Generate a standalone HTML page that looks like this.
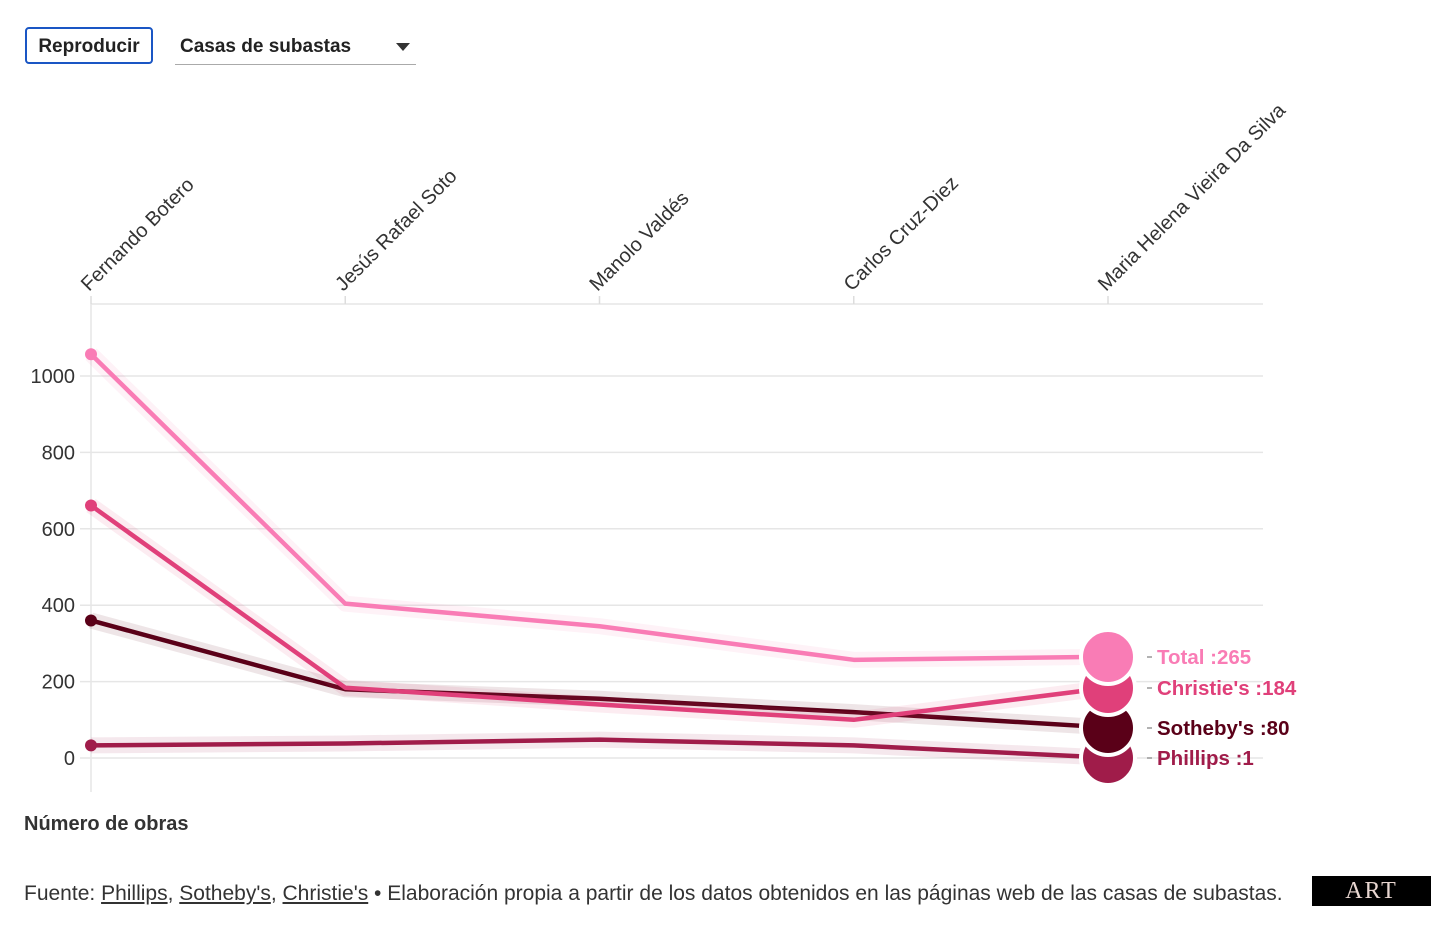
<!DOCTYPE html>
<html><head><meta charset="utf-8"><style>
body{margin:0;width:1456px;height:939px;background:#fff;font-family:"Liberation Sans",sans-serif;overflow:hidden;position:relative}
.btn{position:absolute;left:25px;top:27px;width:128px;height:37px;border:2px solid #1a56c4;border-radius:4px;box-sizing:border-box;font-size:19px;font-weight:bold;color:#222;text-align:center;line-height:35px}
.sel{position:absolute;left:175px;top:30px;width:241px;height:35px;border-bottom:1.5px solid #aaa;font-size:19px;font-weight:bold;color:#222;box-sizing:border-box;padding-left:5px;line-height:34px}
.sel .arr{position:absolute;right:6px;top:13px;width:0;height:0;border-left:7px solid transparent;border-right:7px solid transparent;border-top:8px solid #333}
</style></head><body>
<div class="btn">Reproducir</div>
<div class="sel">Casas de subastas<span class="arr"></span></div>
<svg id="c" width="1456" height="939" style="position:absolute;left:0;top:0"></svg>
<div style="position:absolute;left:24px;top:813px;font-size:20px;font-weight:bold;color:#333">Número de obras</div>
<div style="position:absolute;left:24px;top:882px;font-size:21px;color:#333;white-space:nowrap">Fuente: <u>Phillips</u>, <u>Sotheby's</u>, <u>Christie's</u> • Elaboración propia a partir de los datos obtenidos en las páginas web de las casas de subastas.</div>
<div style="position:absolute;left:1312px;top:876px;width:119px;height:30px;background:#000;color:#e8d6d0;font-family:'Liberation Serif',serif;font-size:24px;text-align:center;line-height:30px;letter-spacing:2px">ART</div>
<script>
const categories=["Fernando Botero","Jesús Rafael Soto","Manolo Valdés","Carlos Cruz-Diez","Maria Helena Vieira Da Silva"];
const seriesNames=["Total","Christie's","Sotheby's","Phillips"];
const totalVals=[1057,404,345,257,265];
const christiesVals=[661,184,140,100,184];
const sothebysVals=[360,180,155,120,80];
const phillipsVals=[33,38,48,33,1];
const yTicks=[0,200,400,600,800,1000];
const colors=["#f97cb5","#e0407a","#5a0018","#a01c4a"];
const labelY=[657,688,728,758];
const svg=document.getElementById('c');const NS="http://www.w3.org/2000/svg";
function x(i){return 91+i*254.25;}
function y(v){return 758-v*0.382;}
function mk(t,a,p){const e=document.createElementNS(NS,t);for(const k in a)e.setAttribute(k,a[k]);(p||svg).appendChild(e);return e;}
yTicks.forEach(v=>{
const l=mk('line',{x1:80,x2:1263,y1:y(v),y2:y(v),stroke:'#e6e6e6','stroke-width':1.5});


const t=mk('text',{x:75,y:y(v)+7,'text-anchor':'end','font-size':20,fill:'#333','font-family':'Liberation Sans, sans-serif'});t.textContent=v;


});
const topAxis=mk('line',{x1:91,x2:1263,y1:304,y2:304,stroke:'#e6e6e6','stroke-width':1.5});


const vax=mk('line',{x1:91,x2:91,y1:304,y2:792,stroke:'#e6e6e6','stroke-width':1.5});


categories.forEach((c,i)=>{
const tk=mk('line',{x1:x(i),x2:x(i),y1:296,y2:304,stroke:'#ddd','stroke-width':1.5});


const t=mk('text',{x:0,y:0,'font-size':20,fill:'#333','font-family':'Liberation Sans, sans-serif',transform:`translate(${x(i)-2},292) rotate(-45)`});t.textContent=c;


});
const all=[totalVals,christiesVals,sothebysVals,phillipsVals];
[3,2,1,0].forEach(s=>{
const d=all[s].map((v,i)=>(i?'L':'M')+x(i)+','+y(v)).join(' ');
const h=mk('path',{d:d,fill:'none',stroke:colors[s],'stroke-opacity':0.1,'stroke-width':16,'stroke-linejoin':'round'});


const p=mk('path',{d:d,fill:'none',stroke:colors[s],'stroke-width':4.5,'stroke-linejoin':'round'});


const st=mk('circle',{cx:x(0),cy:y(all[s][0]),r:6,fill:colors[s]});


});
[3,2,1,0].forEach(s=>{
const n=all[s].length-1;
const ci=mk('circle',{cx:x(n),cy:labelY[s],r:27,fill:colors[s],stroke:'#fff','stroke-width':4});


});
[0,1,2,3].forEach(s=>{
const n=all[s].length-1;
const dl=mk('line',{x1:1147,x2:1152,y1:labelY[s],y2:labelY[s],stroke:'#999','stroke-width':1.5});


const t=mk('text',{x:1157,y:labelY[s]+7,'font-size':20.5,'font-weight':'bold',fill:colors[s],'font-family':'Liberation Sans, sans-serif'});t.textContent=seriesNames[s]+' :'+all[s][n];


});
</script>
</body></html>
